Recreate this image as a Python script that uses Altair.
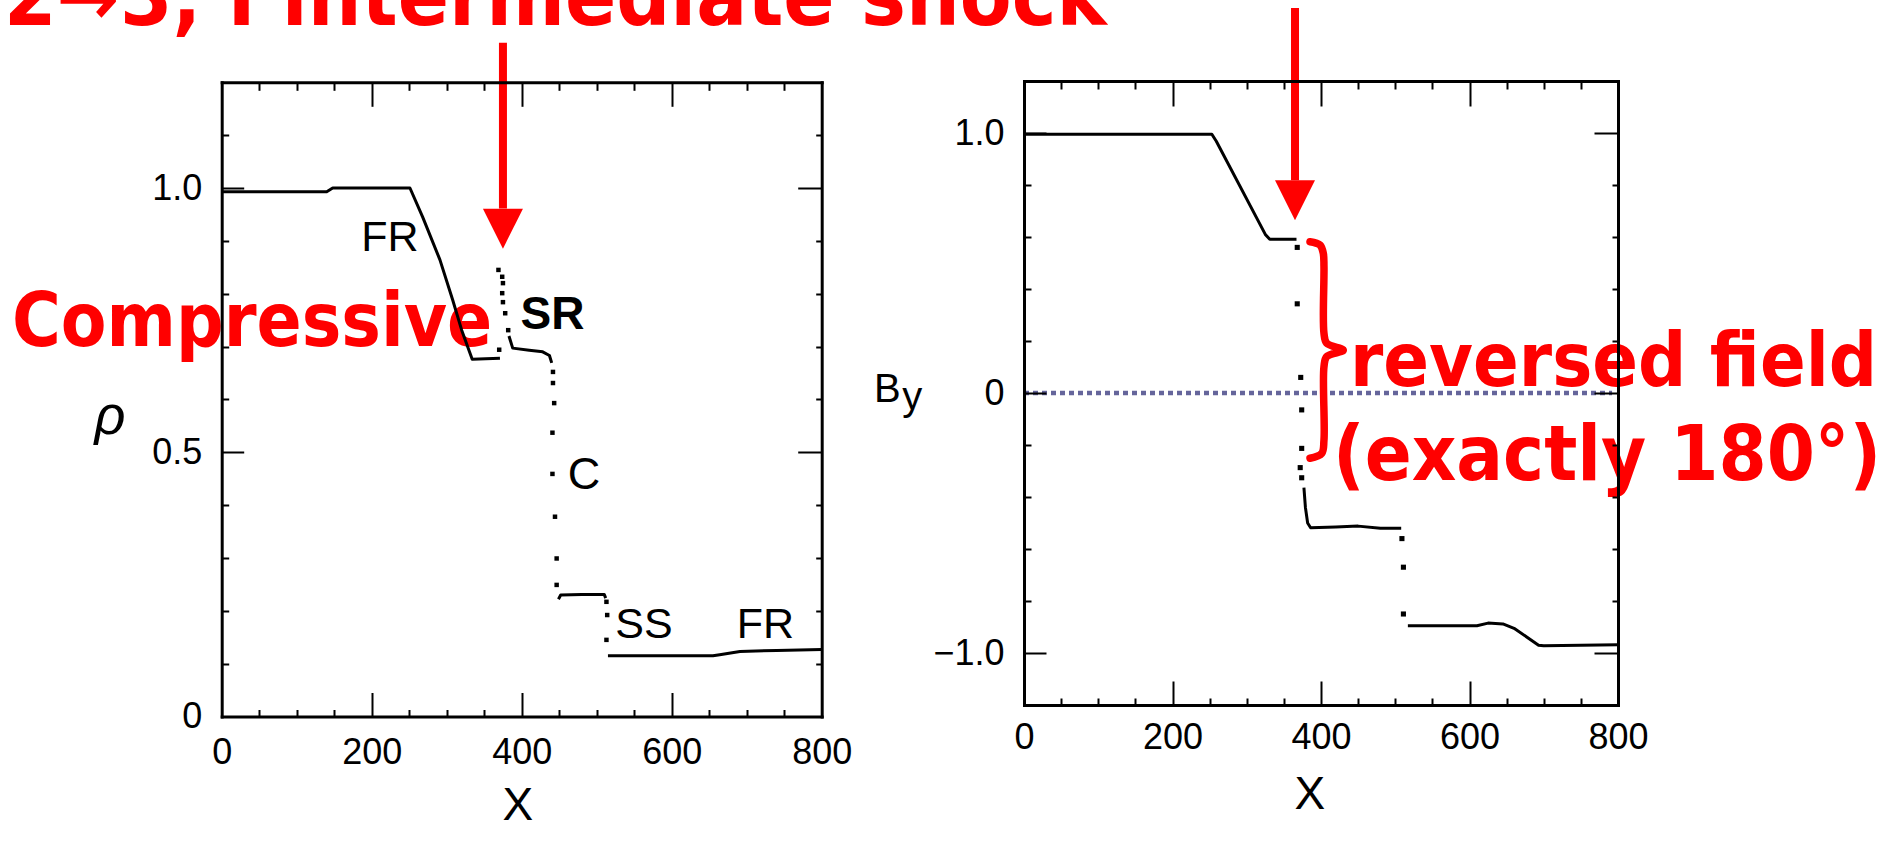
import altair as alt
import pandas as pd

# ---------------- canvas ----------------
W, H = 1890, 835

# ---------------- left panel: density rho(X) ----------------
rho_x_1 = [0, 140, 148, 251, 268, 291, 308, 320, 334, 352, 371]
rho_y_1 = [0.993, 0.993, 1.0, 1.0, 0.945, 0.864, 0.788, 0.731, 0.676, 0.677, 0.678]
rho_x_2 = [383, 388, 410, 428, 437, 440]
rho_y_2 = [0.720, 0.697, 0.693, 0.690, 0.683, 0.669]
rho_x_3 = [449, 452, 480, 510, 512]
rho_y_3 = [0.222, 0.230, 0.231, 0.231, 0.224]
rho_x_4 = [515, 600, 655, 664, 691, 740, 800]
rho_y_4 = [0.115, 0.115, 0.115, 0.117, 0.123, 0.125, 0.127]
rho_dot_x = [370, 369, 374, 375, 374, 375, 378, 382, 441.7, 441.7, 443.3, 441, 441, 444.4, 446.6, 446.6, 513, 514, 513]
rho_dot_y = [0.694, 0.845, 0.832, 0.820, 0.801, 0.784, 0.763, 0.731, 0.652, 0.631, 0.593, 0.537, 0.459, 0.378, 0.299, 0.249, 0.217, 0.192, 0.145]

# ---------------- right panel: By(X) ----------------
by_x_1 = [0, 253, 259, 325, 331, 367]
by_y_1 = [0.995, 0.995, 0.968, 0.610, 0.591, 0.591]
by_x_2 = [377, 379, 382, 386, 420, 450, 480, 508]
by_y_2 = [-0.364, -0.44, -0.50, -0.518, -0.515, -0.512, -0.52, -0.52]
by_x_3 = [517, 610, 625, 645, 660, 693, 700, 800]
by_y_3 = [-0.895, -0.895, -0.885, -0.888, -0.905, -0.970, -0.972, -0.968]
by_dot_x = [368, 368, 372.7, 374, 374, 372, 374, 509, 511, 511]
by_dot_y = [0.56, 0.343, 0.06, -0.065, -0.213, -0.287, -0.326, -0.56, -0.67, -0.85]

# ---------------- ticks ----------------
x_label_values = [0, 200, 400, 600, 800]
x_major = [200, 400, 600]
x_minor = [50, 100, 150, 250, 300, 350, 450, 500, 550, 650, 700, 750]
rho_label_values = [0, 0.5, 1.0]
rho_major = [0.5, 1.0]
rho_minor = [0.1, 0.2, 0.3, 0.4, 0.6, 0.7, 0.8, 0.9, 1.1]
by_label_values = [-1.0, 0, 1.0]
by_major = [-1.0, 0, 1.0]
by_minor = [-0.8, -0.6, -0.4, -0.2, 0.2, 0.4, 0.6, 0.8]

# ---------------- text annotations ----------------
left_lbl_text = ["FR", "C", "SS", "FR", "X"]
left_lbl_x = [224.4, 483.1, 563, 725, 395]
left_lbl_y = [0.905, 0.457, 0.173, 0.173, -0.170]
left_lbl_size = [43, 45, 43, 43, 46]
rho_title_text = ["ρ"]
rho_title_x = [-149]
rho_title_y = [0.535]
sr_text = ["SR"]
sr_x = [441]
sr_y = [0.760]
red_left_text = ["Compressive", "2→3, I intermediate shock"]
red_left_x = [-279.6, -290.3]
red_left_y = [0.701, 1.308]
red_left_size = [74, 84]
red_right_text = ["reversed field", "(exactly 180°)"]
red_right_x = [439.1, 416.2]
red_right_y = [0.027, -0.335]
red_right_size = [75, 77]
right_x_title_x = [385]
right_x_title_y = [-1.545]
b_text_x = [-166]
b_text_y = [-0.035]
ysub_x = [-164]
ysub_y = [-0.065]

# arrows (data units of each panel)
l_arrow_x = [375]
l_arrow_top = [1.275]
l_arrow_base = [0.961]
l_head_y = [0.923]
r_arrow_x = [365]
r_arrow_top = [1.481]
r_arrow_base = [0.818]
r_head_y = [0.741]

# brace (right panel, data units)
brace_x = [385.2, 398.7, 403.1, 404, 404, 407.7, 430, 407.7, 404, 404, 401, 385.2]
brace_y = [0.582, 0.569, 0.537, 0.486, 0.230, 0.191, 0.165, 0.140, 0.101, -0.181, -0.232, -0.251]

# zero reference line (right panel)
zero_x0, zero_x1, zero_y = [0], [792], [0]

# ---------------- scales ----------------
LX = ([0, 800], [221.7, 821.7])
LY = ([0, 1.2], [716.5, 82.3])
RX = ([0, 800], [1024, 1618])
RY = ([-1.2, 1.2], [705, 81])


def sc(s):
    return alt.Scale(domain=s[0], range=s[1], nice=False, zero=False)


SCAN_FONT = "Liberation Sans"
RED_FONT = "DejaVu Sans Condensed, DejaVu Sans"
RED = "#ff0000"


def ax_labels(orient, values, offset, pad, expr):
    return alt.Axis(orient=orient, values=values, offset=offset, ticks=False,
                    domain=True, domainWidth=3, domainColor="black", domainCap="square",
                    labels=True, labelFont=SCAN_FONT, labelFontSize=36, labelColor="black",
                    labelPadding=pad, labelFlush=False, labelOverlap=False, labelExpr=expr,
                    grid=False, title="", zindex=1)


def ax_ticks(orient, values, offset, length, domain=False):
    kw = dict(orient=orient, values=values, offset=offset, ticks=True,
              tickSize={"expr": str(-length)}, tickWidth=2, tickColor="black",
              labels=False, domain=domain, grid=False, title="", zindex=1)
    if domain:
        kw.update(domainWidth=3, domainColor="black", domainCap="square")
    return alt.Axis(**kw)


def X(field, s, axis=None):
    return alt.X(field, type="quantitative", scale=sc(s), axis=axis)


def Y(field, s, axis=None):
    return alt.Y(field, type="quantitative", scale=sc(s), axis=axis)


def seg_df(segs):
    rows = []
    for s, (xs, ys) in enumerate(segs):
        for i, (a, b) in enumerate(zip(xs, ys)):
            rows.append({"seg": s, "i": i, "x": a, "y": b})
    return pd.DataFrame(rows)


# offsets for placing each panel's axes inside the full-page view
L_off = dict(bottom=-(H - 716.5), top=-82.3, left=-221.7, right=-(W - 821.7))
R_off = dict(bottom=-(H - 705), top=-81, left=-1024, right=-(W - 1618))

x_expr = "format(datum.value, 'd')"
rho_expr = "datum.value == 0 ? '0' : format(datum.value, '.1f')"
by_expr = "datum.value == 0 ? '0' : (datum.value < 0 ? '\u2212' + format(-datum.value, '.1f') : format(datum.value, '.1f'))"

layers = []

# ---------- left panel ----------
red_left = pd.DataFrame({"t": red_left_text, "x": red_left_x, "y": red_left_y, "fs": red_left_size})
layers.append(alt.Chart(red_left).mark_text(font=RED_FONT, fontWeight="bold", color=RED,
                                            align="left", baseline="alphabetic").encode(
    x=X("x", LX), y=Y("y", LY), text="t:N", size=alt.Size("fs:Q", scale=None)))

rho_lines = seg_df([(rho_x_1, rho_y_1), (rho_x_2, rho_y_2), (rho_x_3, rho_y_3), (rho_x_4, rho_y_4)])
layers.append(alt.Chart(rho_lines).mark_line(color="black", strokeWidth=3, strokeJoin="round").encode(
    x=X("x", LX, ax_labels("bottom", x_label_values, L_off["bottom"], 19, x_expr)),
    y=Y("y", LY, ax_labels("left", rho_label_values, L_off["left"], 20, rho_expr)),
    detail="seg:N", order="i:Q"))

rho_dots = pd.DataFrame({"x": rho_dot_x, "y": rho_dot_y})
layers.append(alt.Chart(rho_dots).mark_square(size=20, color="black", opacity=1).encode(
    x=X("x", LX, ax_ticks("bottom", x_major, L_off["bottom"], 24)),
    y=Y("y", LY, ax_ticks("left", rho_major, L_off["left"], 22))))

left_lbl = pd.DataFrame({"t": left_lbl_text, "x": left_lbl_x, "y": left_lbl_y, "fs": left_lbl_size})
layers.append(alt.Chart(left_lbl).mark_text(font=SCAN_FONT, color="black", align="center",
                                            baseline="middle").encode(
    x=X("x", LX, ax_ticks("bottom", x_minor, L_off["bottom"], 7)),
    y=Y("y", LY, ax_ticks("left", rho_minor, L_off["left"], 7)),
    text="t:N", size=alt.Size("fs:Q", scale=None)))

rho_title = pd.DataFrame({"t": rho_title_text, "x": rho_title_x, "y": rho_title_y})
layers.append(alt.Chart(rho_title).mark_text(font=SCAN_FONT, fontStyle="italic", fontSize=54, color="black",
                                             align="center", baseline="alphabetic").encode(
    x=X("x", LX, ax_ticks("top", x_major, L_off["top"], 24, domain=True)),
    y=Y("y", LY, ax_ticks("right", rho_major, L_off["right"], 24, domain=True)),
    text="t:N"))

sr = pd.DataFrame({"t": sr_text, "x": sr_x, "y": sr_y})
layers.append(alt.Chart(sr).mark_text(font=SCAN_FONT, fontWeight="bold", fontSize=46, color="black",
                                      align="center", baseline="middle").encode(
    x=X("x", LX, ax_ticks("top", x_minor, L_off["top"], 8)),
    y=Y("y", LY, ax_ticks("right", rho_minor, L_off["right"], 6)),
    text="t:N"))

l_arrow = pd.DataFrame({"x": l_arrow_x, "y0": l_arrow_top, "y1": l_arrow_base, "yh": l_head_y})
layers.append(alt.Chart(l_arrow).mark_rule(color=RED, strokeWidth=8).encode(
    x=X("x", LX), y=Y("y0", LY), y2="y1:Q"))
layers.append(alt.Chart(l_arrow).mark_point(shape="M-1,-1L1,-1L0,1Z", filled=True, size=1600,
                                            color=RED, opacity=1).encode(
    x=X("x", LX), y=Y("yh", LY)))

# ---------- right panel ----------
red_right = pd.DataFrame({"t": red_right_text, "x": red_right_x, "y": red_right_y, "fs": red_right_size})
layers.append(alt.Chart(red_right).mark_text(font=RED_FONT, fontWeight="bold", color=RED,
                                             align="left", baseline="alphabetic").encode(
    x=X("x", RX), y=Y("y", RY), text="t:N", size=alt.Size("fs:Q", scale=None)))

zero = pd.DataFrame({"x0": zero_x0, "x1": zero_x1, "y": zero_y})
layers.append(alt.Chart(zero).mark_rule(color="#65659b", strokeWidth=4.5, strokeDash=[5, 4]).encode(
    x=X("x0", RX, ax_ticks("bottom", x_minor, R_off["bottom"], 7)), x2="x1:Q",
    y=Y("y", RY, ax_ticks("left", by_minor, R_off["left"], 7))))

by_lines = seg_df([(by_x_1, by_y_1), (by_x_2, by_y_2), (by_x_3, by_y_3)])
layers.append(alt.Chart(by_lines).mark_line(color="black", strokeWidth=3, strokeJoin="round").encode(
    x=X("x", RX, ax_labels("bottom", x_label_values, R_off["bottom"], 15, x_expr)),
    y=Y("y", RY, ax_labels("left", by_label_values, R_off["left"], 20, by_expr)),
    detail="seg:N", order="i:Q"))

by_dots = pd.DataFrame({"x": by_dot_x, "y": by_dot_y})
layers.append(alt.Chart(by_dots).mark_square(size=26, color="black", opacity=1).encode(
    x=X("x", RX, ax_ticks("bottom", x_major, R_off["bottom"], 24)),
    y=Y("y", RY, ax_ticks("left", by_major, R_off["left"], 22))))

rx_title = pd.DataFrame({"t": ["X"], "x": right_x_title_x, "y": right_x_title_y})
layers.append(alt.Chart(rx_title).mark_text(font=SCAN_FONT, fontSize=46, color="black",
                                            align="center", baseline="middle").encode(
    x=X("x", RX, ax_ticks("top", x_major, R_off["top"], 25, domain=True)),
    y=Y("y", RY, ax_ticks("right", by_major, R_off["right"], 24, domain=True)),
    text="t:N"))

b_df = pd.DataFrame({"t": ["B"], "x": b_text_x, "y": b_text_y})
layers.append(alt.Chart(b_df).mark_text(font=SCAN_FONT, fontSize=40, color="black",
                                        align="right", baseline="alphabetic").encode(
    x=X("x", RX, ax_ticks("top", x_minor, R_off["top"], 8)),
    y=Y("y", RY, ax_ticks("right", by_minor, R_off["right"], 6)),
    text="t:N"))

ys_df = pd.DataFrame({"t": ["y"], "x": ysub_x, "y": ysub_y})
layers.append(alt.Chart(ys_df).mark_text(font=SCAN_FONT, fontSize=40, color="black",
                                         align="left", baseline="alphabetic").encode(
    x=X("x", RX), y=Y("y", RY), text="t:N"))

r_arrow = pd.DataFrame({"x": r_arrow_x, "y0": r_arrow_top, "y1": r_arrow_base, "yh": r_head_y})
layers.append(alt.Chart(r_arrow).mark_rule(color=RED, strokeWidth=8).encode(
    x=X("x", RX), y=Y("y0", RY), y2="y1:Q"))
layers.append(alt.Chart(r_arrow).mark_point(shape="M-1,-1L1,-1L0,1Z", filled=True, size=1600,
                                            color=RED, opacity=1).encode(
    x=X("x", RX), y=Y("yh", RY)))

brace = pd.DataFrame({"x": brace_x, "y": brace_y, "i": list(range(len(brace_x)))})
layers.append(alt.Chart(brace).mark_line(color=RED, strokeWidth=7.5, interpolate="catmull-rom",
                                         strokeCap="round", strokeJoin="round").encode(
    x=X("x", RX), y=Y("y", RY), order="i:Q"))

chart = alt.layer(*layers).resolve_scale(x="independent", y="independent").properties(
    width=W, height=H, autosize=alt.AutoSizeParams(type="none"), padding=0,
    background="white"
).configure_view(strokeWidth=0)

chart.save("out.html", embed_options={"renderer": "svg", "actions": False})
